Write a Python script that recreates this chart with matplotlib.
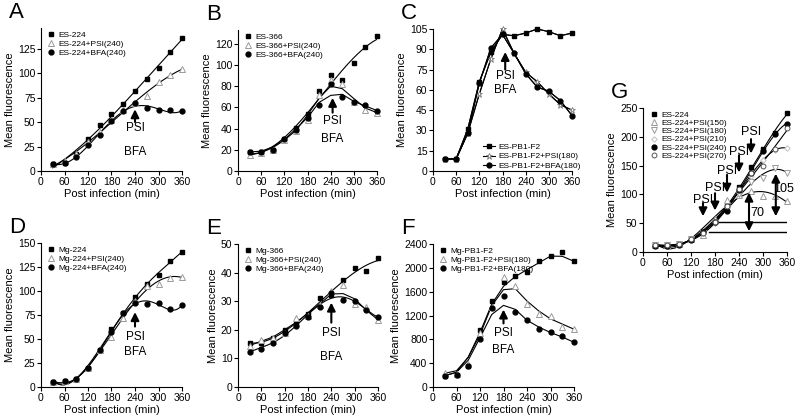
import numpy as np
import matplotlib
matplotlib.use("Agg")
import matplotlib.pyplot as plt

plt.rcParams['font.family'] = ['Liberation Sans', 'DejaVu Sans']

t = [30, 60, 90, 120, 150, 180, 210, 240, 270, 300, 330, 360]
xticks = [0, 60, 120, 180, 240, 300, 360]

# panel A
a_es = [7, 8, 17, 33, 47, 58, 68, 82, 94, 105, 121, 136]
a_psi = [7, 10, 17, 30, 40, 52, 62, 69, 77, 91, 98, 104]
a_bfa = [7, 8, 14, 27, 37, 51, 61, 69, 64, 62, 62, 61]
# panel B
b_es = [18, 18, 20, 30, 41, 54, 75, 91, 86, 102, 117, 127]
b_psi = [15, 17, 20, 29, 38, 48, 72, 86, 82, 65, 58, 55]
b_bfa = [18, 18, 20, 30, 39, 50, 62, 82, 70, 65, 62, 57]
# panel C
c_es = [9, 9, 31, 66, 88, 101, 100, 102, 105, 103, 100, 102]
c_psi = [9, 9, 28, 57, 83, 105, 87, 73, 66, 57, 49, 45]
c_bfa = [9, 9, 28, 65, 91, 101, 87, 72, 62, 59, 52, 41]
# panel D
d_es = [5, 6, 8, 20, 39, 60, 77, 94, 107, 117, 131, 141]
d_psi = [5, 6, 8, 20, 39, 52, 72, 90, 105, 107, 114, 115]
d_bfa = [5, 6, 8, 20, 39, 57, 77, 88, 86, 87, 81, 85]
# panel E
e_es = [15.5, 15.5, 17, 20, 22, 25.5, 31, 32, 37.5, 41.5, 40.5, 45]
e_psi = [14.5, 16.5, 17, 19, 24, 25, 28.5, 33.5, 35.5, 29, 28, 23.5]
e_bfa = [12.3, 13.3, 15.5, 19, 21.5, 24.5, 28, 33, 30.5, 30, 27, 24.5]
# panel F
f_es = [190, 200, 350, 960, 1440, 1770, 1860, 1930, 2120, 2200, 2270, 2110]
f_psi = [230, 210, 380, 900, 1350, 1850, 1700, 1400, 1230, 1200, 1000, 970]
f_bfa = [190, 200, 350, 800, 1330, 1520, 1260, 1130, 970, 920, 850, 750]
# panel G
g_es = [12, 12, 14, 22, 35, 52, 80, 112, 147, 178, 207, 241]
g_150 = [12, 12, 14, 22, 30, 58, 90, 99, 106, 97, 97, 89]
g_180 = [12, 12, 14, 22, 33, 50, 76, 100, 122, 128, 146, 138]
g_210 = [12, 12, 14, 22, 33, 52, 78, 108, 132, 160, 177, 180]
g_240 = [10, 10, 13, 20, 34, 52, 72, 108, 138, 176, 205, 223]
g_270 = [12, 12, 14, 22, 33, 52, 80, 110, 137, 150, 178, 215]

SQ = dict(marker='s', mfc='black', mec='black', ms=3.5)
TRI = dict(marker='^', mfc='white', mec='#9a9a9a', ms=4, mew=0.7)
CIR = dict(marker='o', mfc='black', mec='black', ms=3.5)
STAR = dict(marker='*', mfc='white', mec='#777777', ms=5, mew=0.6)
VTRI = dict(marker='v', mfc='white', mec='#9a9a9a', ms=4, mew=0.7)
DIA = dict(marker='D', mfc='white', mec='#c0c0c0', ms=2.8, mew=0.7)
OCIR = dict(marker='o', mfc='white', mec='#555555', ms=3.5, mew=0.7)


def curve(ax, y, kind, deg=4):
    x = np.array(t, float)
    y = np.array(y, float)
    if kind == 'fit':
        xx = np.linspace(30, 360, 200)
        yy = np.polyval(np.polyfit(x, y, deg), xx)
    elif kind == 'ma':
        xx = x
        yy = y.copy()
        yy[1:-1] = (y[:-2] + y[1:-1] + y[2:]) / 3
    else:
        xx, yy = x, y
    ax.plot(xx, yy, color='black', lw=0.8, zorder=2)


def panel(rect, letter, ymax, yticks, series, labels, legpos, leglines=False, lsp=0.15):
    ax = fig.add_axes(rect)
    for (y, sty, kind, deg), lab in zip(series, labels):
        curve(ax, y, kind, deg)
        ax.plot(t, y, ls='-' if leglines else 'none', lw=0, color='black',
                clip_on=False, zorder=3, label=lab, **sty)
    ax.set_xlim(0, 360)
    ax.set_ylim(0, ymax)
    ax.set_xticks(xticks)
    ax.set_yticks(yticks)
    for s in ['top', 'right']:
        ax.spines[s].set_visible(False)
    ax.tick_params(labelsize=7.5, length=3, width=0.8, pad=1)
    ax.set_xlabel('Post infection (min)', fontsize=8, labelpad=2)
    ax.set_ylabel('Mean fluorescence', fontsize=8, labelpad=2)
    h, l = ax.get_legend_handles_labels()
    if leglines:
        for hh in h:
            hh.set_linewidth(0.8)
            hh.set_linestyle('-')
    ax.legend(h, l, loc=legpos[0], bbox_to_anchor=legpos[1], frameon=False,
              fontsize=6, handlelength=1.0 if not leglines else 1.4,
              handletextpad=0.4, labelspacing=lsp, borderaxespad=0,
              borderpad=0)
    bb = ax.get_position()
    fig.text(bb.x0 - 0.04, bb.y1 + 0.038, letter, fontsize=16, ha='left', va='center')
    return ax


def mark(ax, x, yhead, ytail, ypsi, ybfa=None, fs=8.5):
    ax.annotate('', xy=(x, yhead), xytext=(x, ytail),
                arrowprops=dict(arrowstyle='-|>', color='black', lw=1.5,
                                mutation_scale=12, shrinkA=0, shrinkB=0))
    ax.text(x, ypsi, 'PSI', fontsize=fs, ha='center', va='center')
    if ybfa is not None:
        ax.text(x, ybfa, 'BFA', fontsize=fs, ha='center', va='center')


fig = plt.figure(figsize=(8, 4.19), dpi=100)
W, H = 800, 419


def rect(l, r, b, tp):
    return [l / W, 1 - b / H, (r - l) / W, (b - tp) / H]


ax = panel(rect(41, 182, 171, 28), 'A', 146, [0, 25, 50, 75, 100, 125],
           [(a_es, SQ, 'fit', 3), (a_psi, TRI, 'fit', 3), (a_bfa, CIR, 'fit', 5)],
           ['ES-224', 'ES-224+PSI(240)', 'ES-224+BFA(240)'], ('upper left', (0.04, 0.98)))
mark(ax, 240, 63, 50, 44, 19.5)

ax = panel(rect(238, 377, 171, 30), 'B', 133, [0, 20, 40, 60, 80, 100, 120],
           [(b_es, SQ, 'fit', 3), (b_psi, TRI, 'ma', 0), (b_bfa, CIR, 'ma', 0)],
           ['ES-366', 'ES-366+PSI(240)', 'ES-366+BFA(240)'], ('upper left', (0.04, 0.98)))
mark(ax, 245, 69, 55, 47, 30)

ax = panel(rect(433, 572, 171, 29), 'C', 105, [0, 15, 30, 45, 60, 75, 90, 105],
           [(c_es, SQ, 'raw', 0), (c_psi, STAR, 'raw', 0), (c_bfa, CIR, 'raw', 0)],
           ['ES-PB1-F2', 'ES-PB1-F2+PSI(180)', 'ES-PB1-F2+BFA(180)'],
           ('lower left', (0.36, 0.01)), leglines=True)
mark(ax, 187, 88, 75, 70, 60)

ax = panel(rect(41, 182, 387, 243), 'D', 150, [0, 25, 50, 75, 100, 125, 150],
           [(d_es, SQ, 'fit', 4), (d_psi, TRI, 'fit', 4), (d_bfa, CIR, 'fit', 5)],
           ['Mg-224', 'Mg-224+PSI(240)', 'Mg-224+BFA(240)'], ('upper left', (0.04, 0.98)))
mark(ax, 240, 78, 63, 52, 36.6)

ax = panel(rect(238, 378, 387, 244), 'E', 50, [0, 10, 20, 30, 40, 50],
           [(e_es, SQ, 'fit', 3), (e_psi, TRI, 'ma', 0), (e_bfa, CIR, 'fit', 5)],
           ['Mg-366', 'Mg-366+PSI(240)', 'Mg-366+BFA(240)'], ('upper left', (0.04, 0.98)))
mark(ax, 240, 29.5, 22.5, 19, 10.5)

ax = panel(rect(433, 574, 387, 244), 'F', 2400, [0, 400, 800, 1200, 1600, 2000, 2400],
           [(f_es, SQ, 'ma', 0), (f_psi, TRI, 'ma', 0), (f_bfa, CIR, 'ma', 0)],
           ['Mg-PB1-F2', 'Mg-PB1-F2+PSI(180)', 'Mg-PB1-F2+BFA(180)'], ('upper left', (0.04, 0.98)))
mark(ax, 180, 1300, 1067, 900, 618)

ax = panel(rect(643, 787, 252, 108), 'G', 250, [0, 50, 100, 150, 200, 250],
           [(g_es, SQ, 'fit', 4), (g_150, TRI, 'fit', 4), (g_180, VTRI, 'fit', 4),
            (g_210, DIA, 'fit', 4), (g_240, CIR, 'fit', 4), (g_270, OCIR, 'fit', 4)],
           ['ES-224', 'ES-224+PSI(150)', 'ES-224+PSI(180)', 'ES-224+PSI(210)',
            'ES-224+PSI(240)', 'ES-224+PSI(270)'], ('upper left', (0.05, 0.98)), lsp=0.05)
for (px, pt, yh, yt) in [(150, 91, 62, 85), (180, 111, 72, 102), (210, 141, 103, 134),
                         (240, 174, 138, 168), (270, 209, 171, 196)]:
    mark(ax, px, yh, yt, pt, fs=9)
ax.plot([187, 360], [52, 52], color='black', lw=1)
ax.plot([165, 360], [35, 35], color='black', lw=1)
for (px, y0, y1, lab, lx, ly) in [(265, 36, 103, '70', 287, 68), (332, 62, 136, '105', 352, 109)]:
    ax.annotate('', xy=(px, y1), xytext=(px, y0),
                arrowprops=dict(arrowstyle='<|-|>', color='black', lw=1.5,
                                mutation_scale=12, shrinkA=0, shrinkB=0))
    ax.text(lx, ly, lab, fontsize=9, ha='center', va='center')

fig.savefig('out.png', dpi=100)
